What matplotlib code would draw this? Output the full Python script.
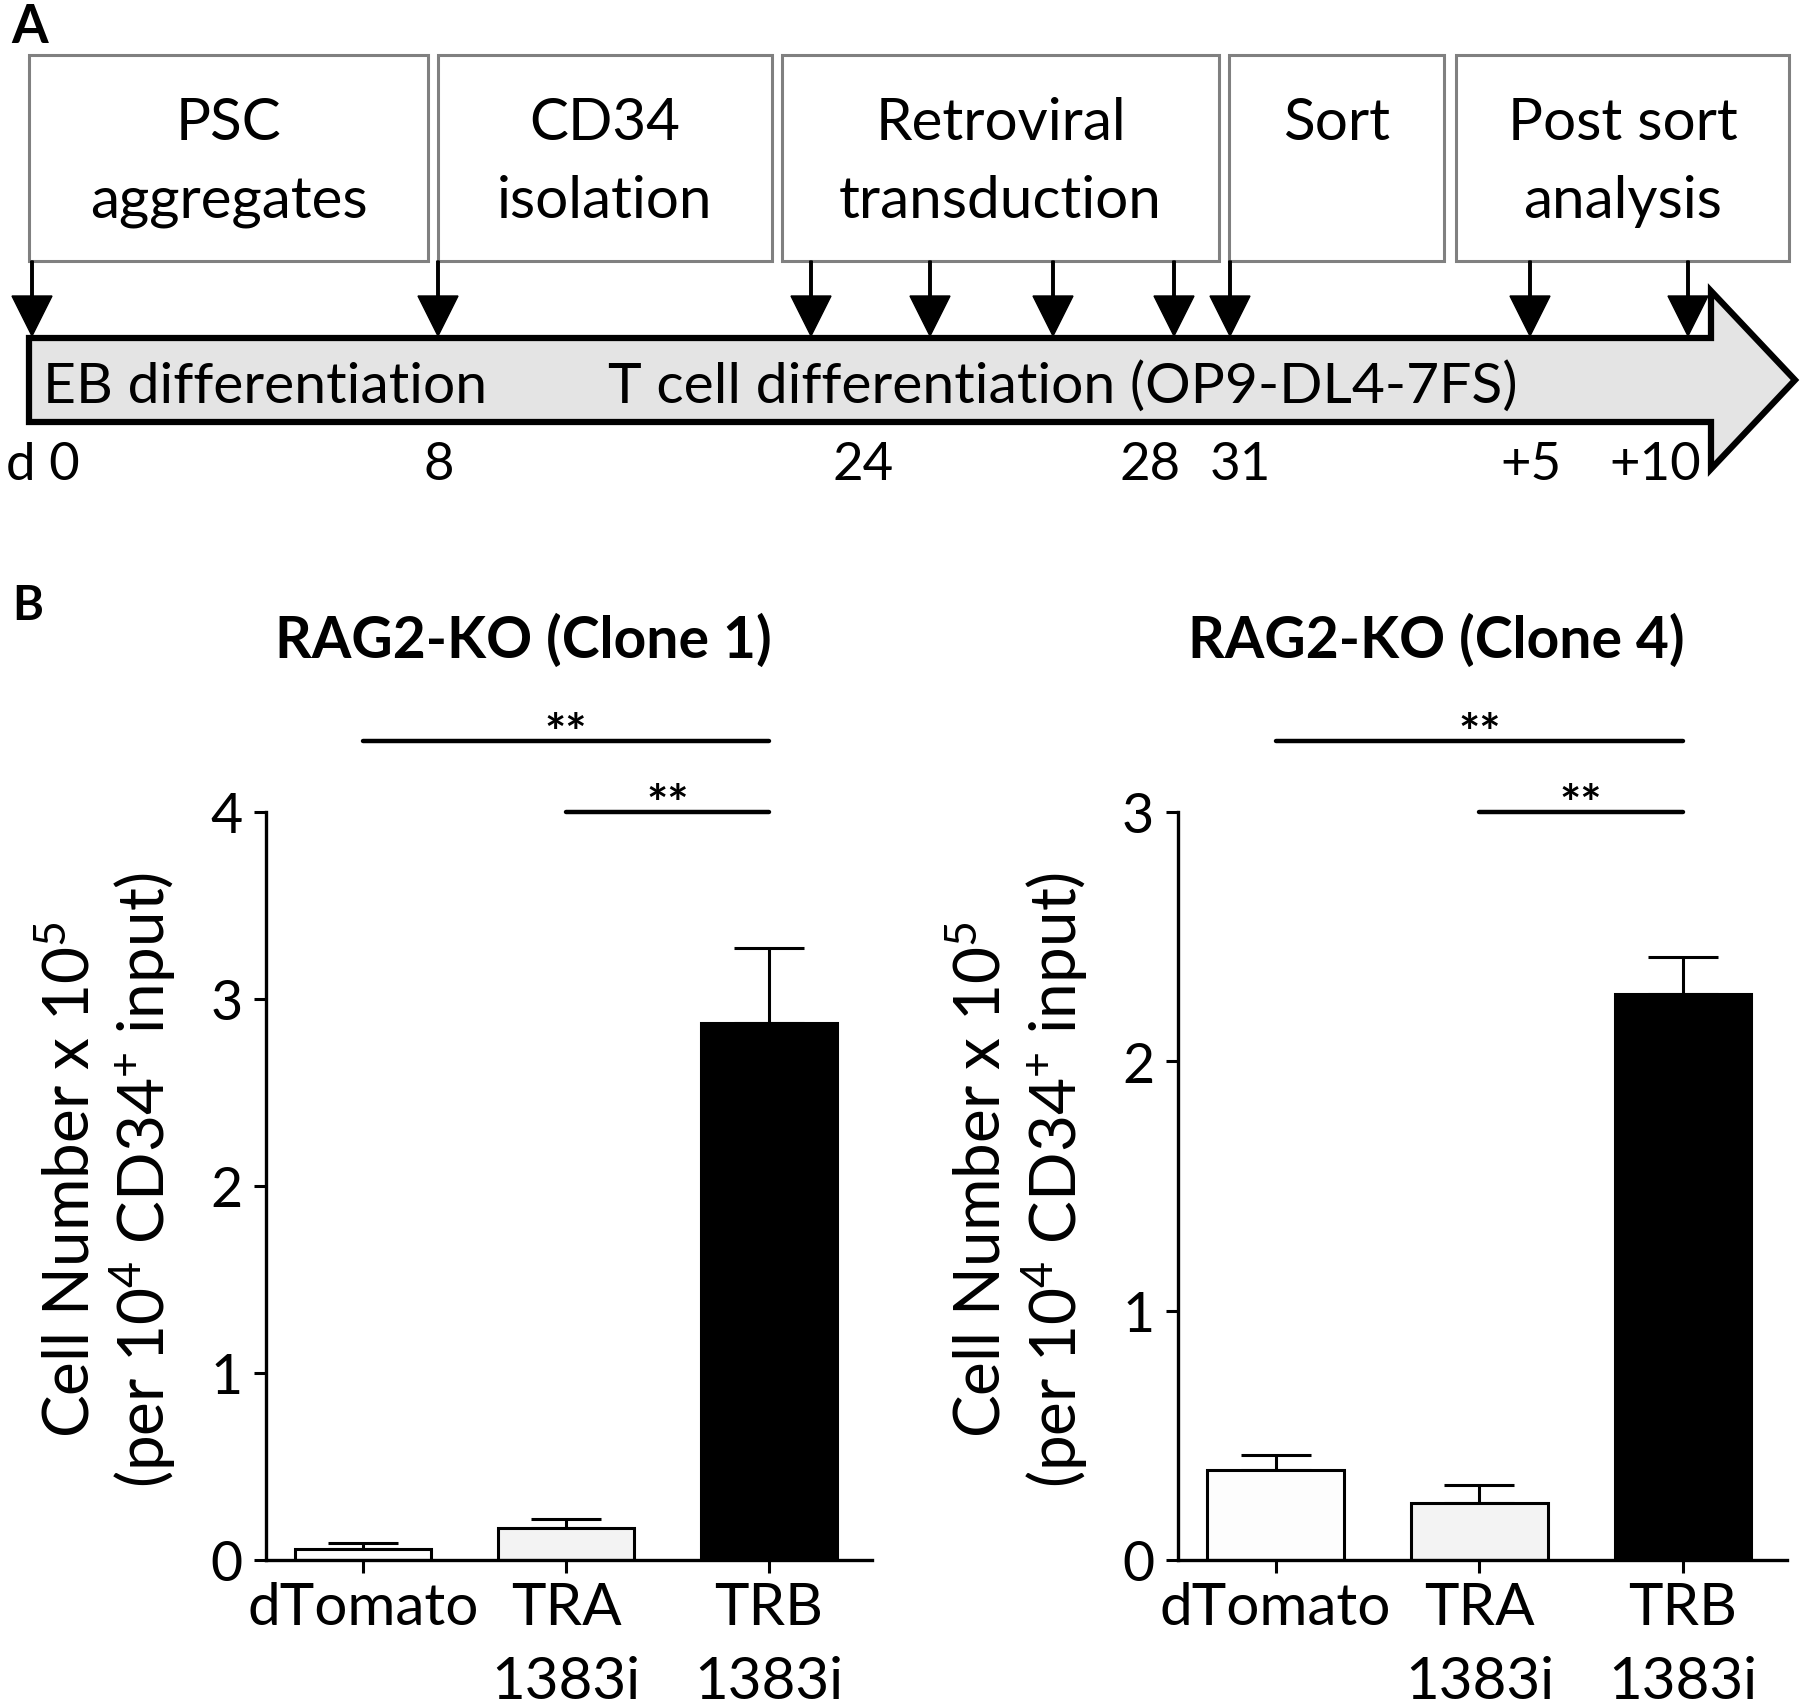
import matplotlib.pyplot as plt
from matplotlib.patches import Rectangle, Polygon

plt.rcParams['font.family'] = ['Lato', 'DejaVu Sans']
plt.rcParams['mathtext.fontset'] = 'custom'
plt.rcParams['mathtext.rm'] = 'Lato'
plt.rcParams['mathtext.it'] = 'Lato:italic'
plt.rcParams['mathtext.bf'] = 'Lato:bold'

# ---- panel A: schematic (layout in pixels of the 1800x1706 canvas) ----
box_labels = ["PSC\naggregates", "CD34\nisolation", "Retroviral\ntransduction",
              "Sort", "Post sort\nanalysis"]
box_left = [29, 438, 782, 1229, 1456]
box_right = [428, 772, 1219, 1444, 1789]
arrow_x = [32, 438, 811, 930, 1053, 1174, 1230, 1530, 1688]
day_labels = ["d 0", "8", "24", "28", "31", "+5", "+10"]
day_x = [6, 439, 863, 1150, 1240, 1531, 1655]
phase_labels = ["EB differentiation", "T cell differentiation (OP9-DL4-7FS)"]
phase_x = [43, 608]

# ---- panel B: data ----
groups = ["dTomato", "TRA\n1383i", "TRB\n1383i"]
bar_colors = ["#fdfdfd", "#f3f3f3", "black"]
clone1_mean = [0.06, 0.17, 2.87]
clone1_sem = [0.03, 0.05, 0.40]
clone4_mean = [0.36, 0.23, 2.27]
clone4_sem = [0.06, 0.07, 0.15]
clone1_sig = [(0, 2, 4.38), (1, 2, 4.0)]
clone4_sig = [(0, 2, 3.285), (1, 2, 3.0)]

fig = plt.figure(figsize=(18, 17.06), dpi=100)

ax0 = fig.add_axes([0, 0, 1, 1])
ax0.set_xlim(0, 1800)
ax0.set_ylim(1706, 0)
ax0.axis('off')

box_top, box_bot = 56, 262
for lab, l, r in zip(box_labels, box_left, box_right):
    ax0.add_patch(Rectangle((l, box_top), r - l, box_bot - box_top,
                            fc='white', ec='#808080', lw=2.2))
    for i, line in enumerate(lab.split("\n")):
        ax0.text((l + r) / 2, 140 + 78 * i, line, ha='center', va='baseline',
                 fontsize=42)

# big timeline arrow
bar_top, bar_bot = 339, 423
ax0.add_patch(Polygon([(29, bar_top), (1711, bar_top), (1711, 292), (1795, 381),
                       (1711, 470), (1711, bar_bot), (29, bar_bot)],
                      closed=True, fc='#e4e4e4', ec='black', lw=4.5,
                      joinstyle='miter'))
for lab, x in zip(phase_labels, phase_x):
    ax0.text(x, 403, lab, ha='left', va='baseline', fontsize=41)

for x in arrow_x:
    ax0.arrow(x, box_bot, 0, bar_top - box_bot - 2, width=2.5, head_width=40,
              head_length=40, length_includes_head=True, fc='black', ec='black')

for i, (lab, x) in enumerate(zip(day_labels, day_x)):
    ax0.text(x, 480, lab, ha='left' if i == 0 else 'center', va='baseline',
             fontsize=38)

ax0.text(11, 43, "A", fontsize=38, fontweight='bold', va='baseline')
ax0.text(12, 620, "B", fontsize=34, fontweight='bold', va='baseline')


def bar_panel(ax, means, sems, sig, ymax, title):
    xs = range(len(groups))
    ax.errorbar(xs, means, yerr=[[0] * len(sems), sems], fmt='none',
                ecolor='black', elinewidth=2.2, capsize=25, capthick=2.2, zorder=1)
    ax.bar(xs, means, width=0.67, color=bar_colors, edgecolor='black',
           linewidth=2.2, zorder=2)
    ax.set_xlim(-0.48, 2.51)
    ax.set_ylim(0, ymax)
    ax.set_yticks(range(ymax + 1))
    ax.set_xticks(list(xs))
    ax.set_xticklabels(groups, linespacing=1.5)
    for s in ['top', 'right']:
        ax.spines[s].set_visible(False)
    for s in ['left', 'bottom']:
        ax.spines[s].set_linewidth(2.4)
    ax.tick_params(axis='y', width=2.2, length=9, labelsize=40, pad=8)
    ax.tick_params(axis='x', width=2.2, length=9, labelsize=42, pad=6)
    ax.set_ylabel("Cell Number x 10$^{5}$\n(per 10$^{4}$ CD34$^{+}$ input)",
                  fontsize=46, linespacing=1.13)
    ax.yaxis.set_label_coords(-0.145, 0.51)
    for a, b, y in sig:
        ax.plot([a, b], [y, y], color='black', lw=3.2, clip_on=False,
                solid_capstyle='round')
        ax.annotate("**", xy=((a + b) / 2, y), xytext=(0, -6),
                    textcoords='offset points', ha='center', va='baseline',
                    fontsize=36, fontweight='bold', annotation_clip=False)
    ax.text(0.425, 1.207, title, transform=ax.transAxes, ha='center',
            va='baseline', fontsize=41, fontweight='bold')


axL = fig.add_axes([0.1478, 0.0850, 0.3367, 0.4385])
bar_panel(axL, clone1_mean, clone1_sem, clone1_sig, 4, "RAG2-KO (Clone 1)")
axR = fig.add_axes([0.6544, 0.0850, 0.3383, 0.4385])
bar_panel(axR, clone4_mean, clone4_sem, clone4_sig, 3, "RAG2-KO (Clone 4)")

fig.savefig("out.png", dpi=100)
